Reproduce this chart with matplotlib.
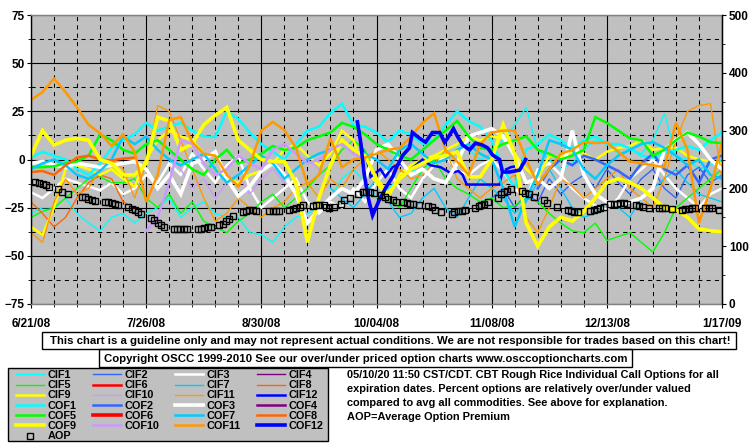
import numpy as np
import matplotlib
matplotlib.use('Agg')
import matplotlib.pyplot as plt
from matplotlib.patches import Rectangle
from matplotlib.ticker import MultipleLocator, FixedLocator

plt.rcParams['font.family'] = ['Liberation Sans', 'DejaVu Sans']
plt.rcParams['font.weight'] = 'bold'

# ---------------- data ----------------
STEP = 3.5          # days between samples of the half-weekly series
N = 61              # samples from 6/21/08 to 1/17/09
xtick_days = [0, 35, 70, 105, 140, 175, 210]
xtick_labels = ['6/21/08', '7/26/08', '8/30/08', '10/04/08', '11/08/08', '12/13/08', '1/17/09']

cif1 = [-28, -25, -25, -20, -28, -33, -37, -30, -28, -33,
        -28, -25, -20, -30, -25, -22, -28, -30, -30, -38,
        -39, -43, -35, -30, -28, -25, -20, -10, -5, -12,
        -20, -15, -10, -5, -8, 0, 5, 8, 5, 0,
        3, 10, 18, 27, 5, 0, -5, -2, 5, 10,
        8, 3, 5, 3, 10, 24, 2, 0, -5, -3,
        0]
cif2_start = 40
cif2 = [-20, -15, -25, -18, -22, -10, -18, -12, -8, -15, -5, -12, -18, -10, -5, -15, -20, -8, -4, -12, -8]
cif3 = [-17, -20, -15, -10, -12, -14, -16, -12, -18, -15,
        -8, -12, -2, -8, 3, -5, -12, -3, 2, -15,
        -25, -20, -15, -10, -22, -28, -22, -25, -15, -22,
        -12, -5, -15, -20, -10, -3, 2, -6, -8, -3,
        0, -6, -15, -20, -5, -2, -8, -15, -20, -24,
        -26, -20, -10, -5, 0, -8, -15, -20, -25, -18,
        -15]
cif5 = [-30, -27, -25, -20, -15, -10, -9, -12, -12, -10,
        -20, -25, -18, -28, -22, -32, -35, -38, -32, -28,
        -22, -18, -25, -20, -15, -8, -3, 5, 10, 5,
        -10, -20, -25, -15, -5, 0, -10, -15, -18, -22,
        -20, -25, -24, -20, -22, -28, -33, -37, -38, -33,
        -42, -40, -38, -43, -48, -38, -25, -20, -15, -10,
        -5]
cif7_start = 26
cif7 = [-15, -20, -25, -18, -10, -22, -30, -28, -20, -15, -25, -30, -20, -10, -15, -20, -28, -22,
        -12, -5, -15, -25, -30, -28, -22, -25, -30, -20, -15, -10, -5, -12, -18, -20, -22]
cif8 = [-22, -28, -35, -30, -20, -12, -8, -10, -22, -25]
cif9 = [-35, -39, -25, -5, -3, -5, -8, -5, -10, -14,
        0, 10, 15, 12, 10, 3, -5, -10, -12, -8,
        -6, -2, 5, 8, 2, -3, 3, 15, 10, -5,
        -12, -20, -8, -3, 0, 2, 5, 8, 12, 10,
        12, 11, 3, -5, -10, 2, 1, 4, 3, 0,
        4, 6, 7, 10, 5, 6, 6, 2, 0, -1,
        -2]
cif10_start = 12
cif10 = [5, -5, -15, -10, -20, -12, -8, -18, -10, -5, -12, -5, 0, -5]
cif11 = [-38, -43, -22, -10, -18, -15, -5, 0, -5, -20,
         -2, 28, 25, 10, -5, -20, -32, -28, -20, -25,
         -30, -25, -22, -15, -12, -20, -10, -15, -5, 0,
         5, 0, -5, -10, -8, -2, 5, -10, -15, -20,
         -15, -12, -8, -30, -38, -25, -10, -14, -20, -15,
         -10, -5, -15, -20, -25, -10, 10, 25, 28, 29,
         -10]
cif12_days = [99.2, 100.7, 102.2, 103.2, 104.7, 106.2, 107.7, 109.9, 112.3, 114.7, 116.9, 119.0,
              121.4, 124.5, 127.5, 129.9, 131.2, 132.4, 136.6, 142.4, 143.3, 145.8, 148.8]
cif12 = [18, 5, -1, -9, -7, -5, -9, -4, -2, -6, -3, 0, -3, -4, -7, -6, -8, -13, -13, -13, -6, -4, -3]

cof1 = [1, 4, 2, 0, -5, -8, -2, 6, 10, 13,
        19, 15, 17, 19, 15, 12, 11.7, 25, 21, 14,
        8, 4, 0, 8, 15, 17, 24, 29, 18, 17,
        14, 9, 15, 13, 8, 10, 18, 25, 20, 17,
        10, -5, -15, 5, 8, 13, 10, 6, 10, 12,
        8, 8, 6, 2, 1, 3, 5, 7, 5, 10,
        14]
cof2_start = 44
cof2 = [-15, -5, 0, -3, 2, 0, -3, -6, -10, -2, 3, -5, -8, -3, -12, 0, 2]
cof3 = [-2, -1, -3, -4, -2, -3, -4, -3, -2, -1,
        -5, -15, -8, -18, -2, 0, 4, -10, -19, -14,
        -6, -2, -8, -18, -33, -26, -20, -15, -18, -10,
        5, 8, 0, -8, -5, -10, -12, -2, 12, 14,
        16, 12, 2, -12, -10, -15, -10, 15, -8, -18,
        -22, -24, -22, -20, -15, 5, 10, 14, 8, 0,
        -5]
cof5 = [-4, -4, -3.5, -2, -1, 2, 13, 10, 5, 3,
        8, 10, 5, 0, -5, -8, 0, 5, -2, 0,
        3, 7, 5, 6, 10, 12, 14, 19, 17, 13,
        8, 5, 2, 0, 5, 10, 15, 20, 12, 6,
        5, 8, 10, 12, 5, 3, 0, 2, 5, 22,
        19, 15, 11, 10, 2, 5, 10, 14, 12, 9,
        8.5]
cof7 = [-5, -2, 0, -3, -8, -10, -6, 0, 12, 8,
        12, 5, 0, -3, 0, 3, -5, -12, -8, -3,
        2, -2, -10, -5, 0, 3, 5, 8, 5, 3,
        0, -5, 5, 8, 3, -2, 0, 5, 8, 3,
        0, -15, -35, -20, -8, 10, 8, 5, -5, -10,
        -3, 2, 5, 8, 9, 6, 2, -3, 0, -8,
        -10]
cof8 = [-6.5, -6, -8, -3, 1, 2, 0, -0.5, 0.5, 1]
cof9 = [2, 15, 7.5, 10, 11, 10, 0, -2, -8, -8,
        -2, 22, 20, 5, 8, 18, 23, 27, 10, 5,
        0, -1, -1, -12, -43, -20, -3, 10, 5, 2,
        -10, -18, -10, -5, -2, 1, 2, 4, -9, -9,
        0, 18, 3, -33, -45, -35, -30, -32, -27, -20,
        -12, -10, -12, -15, -20, -25, -26, -30, -36, -37,
        -37.5]
cof10_start = 10
cof10 = [-37, -30, -12, 10, 8, -2, -8, -5, 2, -2, -5, 5, 8, 3, -2, 0, 5, 8, 3, 0]
cof11 = [31, 35, 42, 35, 27, 18, 13.7, 7, 13, 4,
         -22, -8, 20.5, 22, 9, 3, 2, -8, -14, -3,
         15, 19.5, 15.3, 6, -13, -8, 11, -4, 0, 1,
         3, 5, 6, 12, 19, 24, 5, -1, -8, 8,
         14, 15, 15, 0, -13, -5, 3, 5, 9, 8.5,
         9, 4, -1, -2, -3, -4, 19, 5, -33, -15,
         9]
cof12_days = [99.2, 100.1, 101.3, 102.5, 103.8, 105.6, 107.7, 109.9, 111.1, 112.9, 115.0, 115.9,
              118.1, 119.9, 122.0, 124.2, 125.7, 126.6, 128.4, 129.6, 131.2, 133.3, 135.1, 137.2,
              138.8, 140.3, 142.4, 143.3, 145.5, 148.5, 150.3]
cof12 = [19.5, 10, -8, -20, -29, -22, -15, -9, -4, 2, 6, 14,
         11, 9, 14, 14, 9, 11, 16, 12, 7.5, 5, 8.5, 7.5,
         6, 2.3, 0, -6.5, -6.5, -5.5, 0]

aop_days = [1.2, 2.4, 3.7, 4.6, 5.5, 8.2, 9.4, 11.3, 15.5, 16.4, 17.3, 18.6, 19.5,
            22.5, 23.4, 24.7, 25.6, 26.5, 29.5, 30.7, 31.6, 32.6, 33.5, 36.5, 37.4, 38.6, 39.6, 40.5,
            43.5, 44.4, 45.3, 46.6, 47.5, 50.8, 51.7, 52.6, 53.9, 54.8, 57.2, 58.4, 59.3, 60.3, 61.5,
            64.5, 65.4, 66.3, 67.6, 68.5, 72.4, 73.6, 74.6, 75.5, 78.5, 79.7, 80.6, 81.6, 82.8,
            85.8, 86.7, 87.6, 88.9, 89.8, 90.7, 92.2, 94.3, 95.2, 96.8, 99.5, 101.0, 101.9, 102.9, 104.1,
            106.5, 107.7, 108.6, 109.9, 110.8, 113.2, 114.4, 115.3, 116.2, 117.8, 120.8, 122.0, 122.9, 124.5,
            127.8, 128.7, 129.9, 130.9, 131.8, 134.8, 136.0, 136.9, 137.8, 138.8, 141.8, 142.7, 143.6, 144.8, 145.8,
            149.1, 150.0, 151.2, 152.8, 155.8, 156.7, 159.8, 163.1, 164.0, 164.9, 166.2,
            169.8, 171.0, 171.9, 172.8, 174.1, 175.9, 177.1, 178.0, 178.9, 180.1, 181.1,
            183.8, 184.7, 185.9, 187.8, 190.8, 191.7, 192.6, 194.8, 197.8, 198.8, 199.9, 200.8, 201.8,
            204.8, 206.0, 206.9, 209.0]
aop_vals = [210.5, 210, 208, 205.5, 202, 199, 194, 190, 185, 184.5, 181.5, 180, 178.5,
            176.5, 176.5, 175, 173, 171, 167.5, 165, 163, 159.5, 155.5, 149.5, 145, 141, 136.5, 134,
            130.5, 130, 129.8, 129.5, 129.5, 129.2, 130.3, 132, 133, 133.7, 136, 138.4, 143, 147.6, 152.3,
            158.6, 161.4, 162, 162, 161.4, 161.4, 161.4, 161.4, 161.4, 162, 164.3, 166, 168.3, 170.8,
            170.3, 171, 171, 170.5, 168, 166.6, 168.3, 172.5, 179.4, 183.9, 190.8, 193.8, 193.8, 193.3, 191.5,
            189, 185.6, 181.7, 180, 177, 177, 175.2, 173.5, 173, 171, 169.5, 167.3, 162.6, 158.6,
            156.2, 158.6, 160.4, 161.4, 163.1, 166.6, 170, 171.8, 173, 177, 182.9, 189.8, 193.2, 196, 199,
            195, 192.7, 190.3, 185.6, 180, 175.2, 167.3, 162.6, 161, 159.8, 159.2,
            161.4, 163.1, 164.9, 166.6, 168.3, 172.5, 173, 173.5, 174.2, 174.2, 173,
            171, 169.3, 167.3, 166.6, 166.6, 166.6, 166.6, 164.3, 163.1, 164.3, 164.9, 165.6, 166,
            166, 166, 166, 162.6]

note_lines = ['05/10/20 11:50 CST/CDT. CBT Rough Rice Individual Call Options for all',
              'expiration dates. Percent options are relatively over/under valued',
              'compared to avg all commodities. See above for explanation.',
              'AOP=Average Option Premium']
disclaimer = ('This chart is a guideline only and may not represent actual conditions. '
              'We are not responsible for trades based on this chart!')
copyright_txt = 'Copyright OSCC 1999-2010 See our over/under priced option charts www.osccoptioncharts.com'

# ---------------- styling ----------------
grid_days = np.arange(N) * STEP


def on_grid(vals, start=0):
    arr = np.full(N, np.nan)
    arr[start:start + len(vals)] = vals
    return grid_days, arr


series = {
    'CIF1': on_grid(cif1), 'CIF2': on_grid(cif2, cif2_start), 'CIF3': on_grid(cif3), 'CIF4': ([], []),
    'CIF5': on_grid(cif5), 'CIF6': ([], []), 'CIF7': on_grid(cif7, cif7_start), 'CIF8': on_grid(cif8),
    'CIF9': on_grid(cif9), 'CIF10': on_grid(cif10, cif10_start), 'CIF11': on_grid(cif11),
    'CIF12': (cif12_days, cif12),
    'COF1': on_grid(cof1), 'COF2': on_grid(cof2, cof2_start), 'COF3': on_grid(cof3), 'COF4': ([], []),
    'COF5': on_grid(cof5), 'COF6': ([], []), 'COF7': on_grid(cof7), 'COF8': on_grid(cof8),
    'COF9': on_grid(cof9), 'COF10': on_grid(cof10, cof10_start), 'COF11': on_grid(cof11),
    'COF12': (cof12_days, cof12),
}
colors = {'1': '#00FFFF', '2': '#3366FF', '3': '#FFFFFF', '4': '#800080', '5': '#00FF00', '6': '#FF0000',
          '7': '#00CCFF', '8': '#FF6600', '9': '#FFFF00', '10': '#CC99FF', '11': '#FF9900', '12': '#0000FF'}
cif_lw = {'3': 1.8, '6': 1.8, '9': 1.8, '12': 1.8}
cof_lw = {'3': 2.6, '6': 2.6, '9': 2.6, '12': 2.6}

W, H = 755, 446
fig = plt.figure(figsize=(W / 100, H / 100), dpi=100)
fig.patch.set_facecolor('white')
ax = fig.add_axes([31 / W, 1 - 304 / H, 691 / W, 289 / H])
ax.set_facecolor('#C0C0C0')
ax.set_xlim(0, 210)
ax.set_ylim(-75, 75)

handles = {}
for name, (xd, yd) in series.items():
    k = name[3:]
    lw = (cif_lw.get(k, 1.0) if name.startswith('CIF') else cof_lw.get(k, 1.8))
    ln, = ax.plot(xd, yd, color=colors[k], lw=lw, solid_joinstyle='miter', label=name)
    handles[name] = ln

ax.xaxis.set_major_locator(FixedLocator(xtick_days))
ax.set_xticklabels(xtick_labels)
ax.xaxis.set_minor_locator(MultipleLocator(7))
ax.yaxis.set_major_locator(MultipleLocator(25))
ax.yaxis.set_minor_locator(MultipleLocator(12.5))
ax.grid(which='major', color='black', lw=0.8, ls='-')
ax.grid(which='minor', color='black', lw=0.75, ls=(0, (4, 4)))
ax.set_axisbelow(True)
ax.tick_params(axis='y', which='major', direction='out', length=3, pad=1.5, labelsize=8.5)
ax.tick_params(axis='y', which='minor', direction='out', length=2)
ax.tick_params(axis='x', which='major', direction='out', length=3, pad=7, labelsize=8.5)
ax.tick_params(axis='x', which='minor', direction='out', length=2)
for s in ['top', 'bottom']:
    ax.spines[s].set_color('#808080')
ax.spines['left'].set_color('black')
for s in ax.spines.values():
    s.set_linewidth(1)

ax2 = ax.twinx()
ax2.set_ylim(0, 500)
ax2.yaxis.set_major_locator(MultipleLocator(100))
ax2.yaxis.set_minor_locator(MultipleLocator(50))
ax2.tick_params(axis='y', which='major', direction='out', length=3, pad=2, labelsize=8.5)
ax2.tick_params(axis='y', which='minor', direction='out', length=2)
for s in ['top', 'bottom', 'left']:
    ax2.spines[s].set_visible(False)
ax2.spines['right'].set_color('black')
aop, = ax2.plot(aop_days, aop_vals, ls='none', marker='s', ms=4.3, mfc='none', mec='black', mew=1.0,
                label='AOP')

# ---------------- bottom texts ----------------
fig.canvas.draw()
renderer = fig.canvas.get_renderer()


def fit(t, target):
    w = t.get_window_extent(renderer).width
    t.set_fontsize(t.get_fontsize() * target / w)


fig.patches.append(Rectangle((42 / W, 1 - 349 / H), 694 / W, 17 / H, transform=fig.transFigure,
                             fill=False, edgecolor='black', lw=1))
t1 = fig.text(390 / W, 1 - 341 / H, disclaimer, ha='center', va='center', fontsize=8, weight='bold')
fit(t1, 684)
fig.patches.append(Rectangle((99 / W, 1 - 367 / H), 533 / W, 18 / H, transform=fig.transFigure,
                             fill=False, edgecolor='black', lw=1))
t2 = fig.text(365.5 / W, 1 - 358.5 / H, copyright_txt, ha='center', va='center', fontsize=8, weight='bold')
fit(t2, 524)

t3 = fig.text(347 / W, 1 - 375.5 / H, note_lines[0], ha='left', va='center', fontsize=8, weight='bold')
fit(t3, 371)
fs = t3.get_fontsize()
for i, line in enumerate(note_lines[1:], start=1):
    fig.text(347 / W, 1 - (375.5 + 14 * i) / H, line, ha='left', va='center', fontsize=fs, weight='bold')

# ---------------- legend ----------------
fig.patches.append(Rectangle((8 / W, 1 - 441 / H), 320 / W, 73 / H, transform=fig.transFigure,
                             facecolor='#C0C0C0', edgecolor='black', lw=1))
handles['AOP'] = aop
order = ['CIF1', 'CIF5', 'CIF9', 'COF1', 'COF5', 'COF9', 'AOP',
         'CIF2', 'CIF6', 'CIF10', 'COF2', 'COF6', 'COF10',
         'CIF3', 'CIF7', 'CIF11', 'COF3', 'COF7', 'COF11',
         'CIF4', 'CIF8', 'CIF12', 'COF4', 'COF8', 'COF12']
leg = fig.legend([handles[n] for n in order], order, loc='upper left',
                 bbox_to_anchor=(16 / W, 1 - 370 / H), ncol=4, frameon=False,
                 prop={'weight': 'bold', 'size': 7.8}, handlelength=2.6, handletextpad=0.3,
                 columnspacing=1.5, labelspacing=0.02, borderpad=0, borderaxespad=0,
                 handleheight=0.6, markerscale=1.0)

fig.savefig('out.png', dpi=100, facecolor='white')
